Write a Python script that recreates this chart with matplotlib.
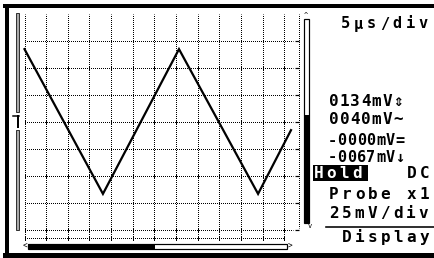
import matplotlib
matplotlib.use("Agg")
import matplotlib.pyplot as plt
from matplotlib.patches import Rectangle
import numpy as np

# ---------------- data ----------------
time_us = [0.0, 18.1, 35.65, 53.9, 61.5]      # waveform vertices (microseconds)
volt_mv = [67, -67, 67, -67, -8]              # waveform vertices (millivolts)
time_per_div = 5        # us/div
volt_per_div = 25       # mV/div
n_xdiv = 12
n_ydiv = 8

timebase_label = "5μs/div"
readouts = ["0134mV⇕", "0040mV~", "-0000mV=", "-0067mV↓"]
mode_label = "Hold"
coupling_label = "DC"
probe_label = "Probe x1"
vdiv_label = "25mV/div"
menu_label = "Display"

# ---------------- figure ----------------
W, H = 434, 258
PX = 72.0 / 100.0           # points per pixel
fig = plt.figure(figsize=(W / 100, H / 100), dpi=100)
fig.patch.set_facecolor("white")

bg = fig.add_axes([0, 0, 1, 1])
bg.set_xlim(0, W)
bg.set_ylim(H, 0)
bg.axis("off")

# scope axes placed over the graticule
gx0, gx1 = 24.5, 284.5      # pixel columns of t=0 and t=60
gy0, gy1 = 13.5, 229.5      # pixel rows of v=+100 and v=-100
ax = fig.add_axes([gx0 / W, (H - gy1) / H, (gx1 - gx0) / W, (gy1 - gy0) / H])
tmax = n_xdiv * time_per_div
vmax = n_ydiv / 2 * volt_per_div
ax.set_xlim(0, tmax)
ax.set_ylim(-vmax, vmax)
ax.axis("off")
ax.patch.set_alpha(0)

px_t = tmax / (gx1 - gx0)            # time units per pixel
px_v = 2 * vmax / (gy1 - gy0)        # volt units per pixel

dot = dict(color="black", lw=PX, linestyle=(0.5, (1, 1)), antialiased=True,
           clip_on=False, solid_capstyle="butt", dash_capstyle="butt")

# vertical graticule lines
xt = np.arange(0, tmax + 0.01, time_per_div)
v_low_ext = -vmax - 11 * px_v
for t in xt:
    ax.plot([t, t], [vmax, v_low_ext], **dot)

# horizontal graticule lines
yt = np.arange(vmax - volt_per_div, -vmax - 0.01, -volt_per_div)
t_right = tmax + 8.5 * px_t
for v in yt:
    ax.plot([0, t_right], [v, v], **dot)
v_scale = -vmax - 8 * px_v
ax.plot([0, tmax], [v_scale, v_scale], **dot)

# small tick marks on alternate lines
tick_rows = list(yt[1::2]) + [v_scale]
for v in tick_rows:
    for t in xt:
        ax.plot([t, t], [v - 2 * px_v, v + 2 * px_v], color="black",
                lw=PX, clip_on=False, solid_capstyle="butt")

# right-hand scale column with ticks
t_col = tmax + 15 * px_t
ax.plot([t_col, t_col], [vmax, -vmax + 2 * px_v], **dot)
for v in yt:
    ax.plot([t_col - 4 * px_t, t_col], [v, v], color="black", lw=PX * 1.2,
            clip_on=False, solid_capstyle="butt")

# waveform
ax.plot(time_us, volt_mv, color="black", lw=1.6, clip_on=False,
        solid_joinstyle="miter", zorder=5)

# ---------------- screen furniture (pixel coordinates) ----------------
def rect(x, y, w, h, fc="black", ec="none", lw=0):
    bg.add_patch(Rectangle((x, y), w, h, facecolor=fc, edgecolor=ec, lw=lw))

# outer frame
rect(3, 4, W - 3, 4)
rect(5, 4, 4, 254)
rect(3, 253, W - 3, 5)

# left offset bar with channel marker
rect(15.5, 13, 3, 99, fc="#aaaaaa", ec="#333333", lw=PX)
rect(15.5, 130, 3, 100, fc="#aaaaaa", ec="#333333", lw=PX)
bg.plot([13, 18.5], [115.5, 115.5], color="black", lw=1.5 * PX)
bg.plot([17.5, 17.5], [115.5, 127], color="black", lw=2 * PX)

# right trigger bar
rect(303.5, 18.5, 5, 204, fc="white", ec="black", lw=1.2 * PX)
rect(303.5, 115, 5, 107.5)
bg.text(305.5, 18, "^", fontsize=5, ha="center", va="bottom", family="DejaVu Sans Mono")
bg.text(309.5, 223, "v", fontsize=5, ha="center", va="top", family="DejaVu Sans Mono")

# horizontal scroll bar
rect(28, 243.5, 259, 5.5, fc="white", ec="black", lw=1.2 * PX)
rect(28, 243.5, 127, 5.5)
bg.text(27, 246.5, "<", fontsize=5.5, ha="right", va="center", family="DejaVu Sans Mono")
bg.text(288, 246.5, ">", fontsize=5.5, ha="left", va="center", family="DejaVu Sans Mono")

# divider above soft-key label
bg.plot([326, W], [226.5, 226.5], color="black", lw=1.6 * PX)

# Hold box
rect(313, 165, 55, 16)

FAM = ["DejaVu Sans Mono", "DejaVu Sans"]

def spaced(s, x0, base, pitch, size, color="black", weight="bold"):
    for i, ch in enumerate(s):
        bg.text(x0 + i * pitch, base, ch, fontsize=size, color=color,
                ha="left", va="baseline", family=FAM, weight=weight)

spaced(timebase_label, 341, 28.5, 12.9, 11)
spaced(readouts[0], 329, 105.5, 10.7, 11.5)
spaced(readouts[1], 329, 123.5, 10.7, 11.5)
spaced(readouts[2], 328, 145, 9.6, 11)
spaced(readouts[3], 328, 161.5, 9.6, 11)
spaced(mode_label, 314, 178.5, 12.6, 11.5, color="white")
spaced(coupling_label, 407, 178.5, 12.6, 11.5)
spaced(probe_label, 329, 199, 12.9, 11.5)
spaced(vdiv_label, 329, 218, 12.75, 11.5)
spaced(menu_label, 342, 242, 12.9, 11.5)

fig.savefig("out.png", dpi=100)
